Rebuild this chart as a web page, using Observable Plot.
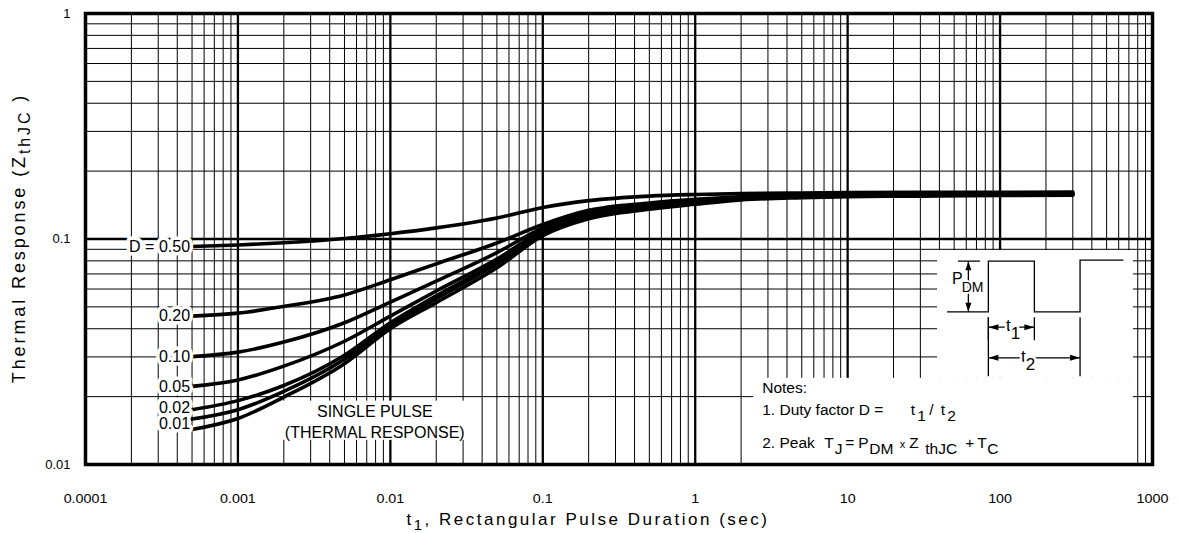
<!DOCTYPE html>
<html><head><meta charset="utf-8">
<script src="https://cdn.jsdelivr.net/npm/d3@7"></script>
<script src="https://cdn.jsdelivr.net/npm/@observablehq/plot@0.6"></script>
<style>
html,body{margin:0;padding:0;background:#fff;}
#chart{width:1179px;height:533px;overflow:hidden;}
svg{font-family:"Liberation Sans",Arial,sans-serif;}
</style></head><body><div id="chart"></div>
<script>
// ---- data ----
const pulseDuration = [0.0005, 0.001, 0.002, 0.005, 0.01, 0.02, 0.05, 0.1, 0.2, 0.5, 1, 2, 5, 10, 30, 100, 300];
const zD050   = [0.0926, 0.0940, 0.0962, 0.1005, 0.1055, 0.1120, 0.1240, 0.1380, 0.1480, 0.1550, 0.1575, 0.1590, 0.1600, 0.1605, 0.1610, 0.1610, 0.1615];
const zD020   = [0.0455, 0.0469, 0.0502, 0.0565, 0.0660, 0.0776, 0.0960, 0.1160, 0.1340, 0.1445, 0.1500, 0.1540, 0.1570, 0.1580, 0.1590, 0.1600, 0.1600];
const zD010   = [0.0301, 0.0315, 0.0349, 0.0425, 0.0525, 0.0650, 0.0870, 0.1120, 0.1310, 0.1415, 0.1480, 0.1530, 0.1560, 0.1570, 0.1580, 0.1590, 0.1590];
const zD005   = [0.0222, 0.0237, 0.0273, 0.0352, 0.0455, 0.0588, 0.0815, 0.1090, 0.1280, 0.1395, 0.1460, 0.1515, 0.1550, 0.1560, 0.1570, 0.1580, 0.1580];
const zD002   = [0.0175, 0.0192, 0.0224, 0.0305, 0.0425, 0.0560, 0.0790, 0.1070, 0.1260, 0.1380, 0.1450, 0.1505, 0.1540, 0.1555, 0.1565, 0.1575, 0.1575];
const zD001   = [0.0159, 0.0175, 0.0211, 0.0293, 0.0413, 0.0543, 0.0775, 0.1055, 0.1245, 0.1370, 0.1440, 0.1500, 0.1535, 0.1550, 0.1560, 0.1570, 0.1570];
const zSingle = [0.0143, 0.0160, 0.0199, 0.0280, 0.0400, 0.0522, 0.0745, 0.1035, 0.1230, 0.1355, 0.1425, 0.1490, 0.1525, 0.1540, 0.1550, 0.1560, 0.1565];
const seriesNames  = ["D = 0.50", "0.20", "0.10", "0.05", "0.02", "0.01", "SINGLE PULSE"];
const seriesValues = [zD050, zD020, zD010, zD005, zD002, zD001, zSingle];
const curveLabels  = ["D = 0.50", "0.20", "0.10", "0.05", "0.02", "0.01"];
const curveLabelZ  = [0.0926, 0.0455, 0.0301, 0.0222, 0.0178, 0.0152];
const singleLabel  = "SINGLE PULSE\n(THERMAL RESPONSE)";
const xTickValues = [1e-4, 1e-3, 1e-2, 1e-1, 1, 10, 100, 1000];
const xTickLabels = ["0.0001", "0.001", "0.01", "0.1", "1", "10", "100", "1000"];
const yTickValues = [0.01, 0.1, 1];
const yTickLabels = ["0.01", "0.1", "1"];

// ---- tables built from the arrays ----
const rows = seriesNames.flatMap((name, s) => pulseDuration.map((t, i) => ({series: name, t, z: seriesValues[s][i]})));
const labelRows = curveLabels.map((label, i) => ({label, t: pulseDuration[0], z: curveLabelZ[i]}));
const majorX = xTickValues;
const minorX = xTickValues.slice(0, -1).flatMap(d => [2,3,4,5,6,7,8,9].map(m => m * d));
const majorY = yTickValues;
const minorY = yTickValues.slice(0, -1).flatMap(d => [2,3,4,5,6,7,8,9].map(m => m * d));

// white annotation panels (in data units)
const panels = [
  {x1: 0.00196, x2: 0.0330, y1: 0.0128, y2: 0.0191},   // single-pulse label
  {x1: 2.42, x2: 750, y1: 0.0101, y2: 0.0241},         // notes
  {x1: 38.9, x2: 750, y1: 0.0241, y2: 0.0888}          // pulse diagram
];

const font = "Liberation Sans, Arial, sans-serif";
const plot = Plot.plot({
  width: 1179, height: 533,
  marginLeft: 85, marginRight: 27, marginTop: 13, marginBottom: 69,
  x: {type: "log", domain: [1e-4, 1000]},
  y: {type: "log", domain: [0.01, 1]},
  style: {fontFamily: font, background: "white", color: "black"},
  marks: [
    Plot.ruleX(minorX, {stroke: "#000", strokeWidth: 1}),
    Plot.ruleY(minorY, {stroke: "#000", strokeWidth: 1}),
    Plot.ruleX(majorX, {stroke: "#000", strokeWidth: 2.3}),
    Plot.ruleY(majorY, {stroke: "#000", strokeWidth: 2.3}),
    Plot.rect(panels, {x1: "x1", x2: "x2", y1: "y1", y2: "y2", fill: "white"}),
    Plot.line(rows, {x: "t", y: "z", z: "series", stroke: "#000", strokeWidth: 3.6, curve: "monotone-x"}),
    Plot.text(labelRows, {x: "t", y: "z", text: "label", textAnchor: "end", dx: -2, fontSize: 16,
      fill: "black", stroke: "white", strokeWidth: 7, paintOrder: "stroke"}),
    Plot.text([singleLabel], {x: [0.0079], y: [0.0156], text: d => d, fontSize: 16, lineHeight: 1.3, fill: "black"}),
    Plot.frame({stroke: "#000", strokeWidth: 3.5}),
    Plot.axisX(xTickValues, {tickSize: 0, tickPadding: 29, fontSize: 13, label: null,
      tickFormat: d => xTickLabels[xTickValues.indexOf(d)]}),
    Plot.axisY(yTickValues, {tickSize: 0, tickPadding: 15, fontSize: 13, label: null,
      tickFormat: d => yTickLabels[yTickValues.indexOf(d)]})
  ]
});
document.getElementById("chart").appendChild(plot);

const svg = d3.select(plot);
// slightly widened tick lettering, as in the reference
svg.selectAll('[aria-label="x-axis tick label"] text').each(function () {
  const tr = this.getAttribute("transform");
  if (tr) this.setAttribute("transform", tr + " scale(1.1,1)");
});

// ---- annotations with subscripts (real text) ----
const sx = plot.scale("x"), sy = plot.scale("y");
function richText(g, x, y, parts, size, opts = {}) {
  const t = g.append("text").attr("x", x).attr("y", y).attr("font-size", size)
    .attr("font-family", font).attr("fill", "black").attr("text-anchor", opts.anchor || "start");
  if (opts.spacing) t.attr("letter-spacing", opts.spacing);
  if (opts.transform) t.attr("transform", opts.transform);
  if (opts.halo) t.attr("stroke", "white").attr("stroke-width", opts.halo).attr("paint-order", "stroke");
  let shifted = 0;
  for (const p of parts) {
    const s = typeof p === "string" ? {t: p} : p;
    const dy = (s.sub || 0) - shifted;
    const ts = t.append("tspan").text(s.t);
    if (s.at != null) ts.attr("x", x + s.at);
    if (dy) ts.attr("dy", dy);
    if (s.dx) ts.attr("dx", s.dx);
    if (s.size) ts.attr("font-size", s.size);
    shifted = s.sub || 0;
  }
  return t;
}

// axis titles
richText(svg, 588, 525, ["t", {t: "1", sub: 5, size: 15}, ", Rectangular Pulse Duration (sec)"], 17, {anchor: "middle", spacing: 2.5});
richText(svg, 0, 0, ["Thermal Response (Z", {t: "thJC", sub: 5, size: 16}, " )"], 18,
  {anchor: "middle", spacing: 2.9, transform: "translate(25,238) rotate(-90)"});

// notes
const nx = sx.apply(2.42) + 9;
richText(svg, nx, 393, ["Notes:"], 15.5);
richText(svg, nx, 415, ["1. Duty factor D =", {t: "t", at: 148.5}, {t: "1", sub: 6, at: 155}, {t: "/", at: 167}, {t: "t", at: 178.5}, {t: "2", sub: 6, at: 185}], 15.5);
richText(svg, nx, 448, ["2. Peak", {t: "T", at: 62}, {t: "J", sub: 6, at: 72.5}, {t: "=", at: 83}, {t: "P", at: 96},
  {t: "DM", sub: 6, at: 107}, {t: "x", size: 11, at: 137.5}, {t: "Z", at: 147}, {t: "thJC", sub: 6, at: 163},
  {t: "+", at: 203}, {t: "T", at: 215}, {t: "C", sub: 6, at: 225}], 15.5);

// pulse diagram, anchored at the diagram panel's top-left
const ox = sx.apply(38.9), oy = sy.apply(0.0888);
const g = svg.append("g").attr("transform", `translate(${ox},${oy})`).attr("fill", "none").attr("stroke", "black").attr("stroke-width", 1.3);
g.append("path").attr("d", "M10,61.7H51.3V11H97.3V61.7H143V10H186.3");
// P_DM dimension
g.append("path").attr("d", "M21,11H43 M31.3,11V61.7");
g.append("path").attr("d", "M31.3,11l-3,9h6z M31.3,61.7l-3,-9h6z").attr("fill", "black").attr("stroke", "none");
// t1 dimension
g.append("path").attr("d", "M51.3,67V90 M97.3,67V90 M51.3,77H97.3");
g.append("path").attr("d", "M51.3,77l10,-3v6z M97.3,77l-10,-3v6z").attr("fill", "black").attr("stroke", "none");
// t2 dimension
g.append("path").attr("d", "M51.3,67V126 M143,67V126 M51.3,107.7H143");
g.append("path").attr("d", "M51.3,107.7l10,-3v6z M143,107.7l-10,-3v6z").attr("fill", "black").attr("stroke", "none");
richText(svg, ox + 15, oy + 34, ["P", {t: "DM", sub: 8, size: 14, dx: -1}], 16, {halo: 4});
richText(svg, ox + 69, oy + 81, ["t", {t: "1", sub: 8}], 17, {halo: 5});
richText(svg, ox + 84, oy + 112, ["t", {t: "2", sub: 8}], 17, {halo: 5});
</script></body></html>
